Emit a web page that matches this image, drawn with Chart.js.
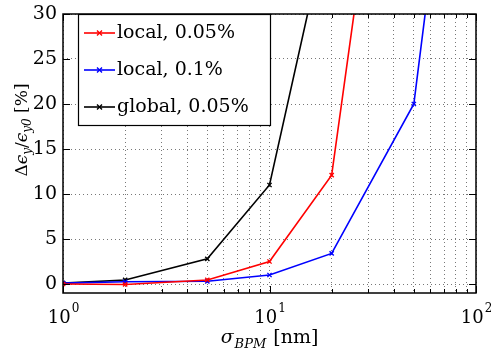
<!DOCTYPE html>
<html lang="en">
<head>
  <meta charset="UTF-8" />
  <title>Emittance growth vs BPM resolution</title>
  <script src="https://cdn.jsdelivr.net/npm/chart.js"></script>
  <style>
    html, body { margin: 0; padding: 0; background: #fff; }
    #wrap { width: 491px; height: 356px; }
  </style>
</head>
<body>
  <div id="wrap"><canvas id="chart" width="491" height="356"></canvas></div>

  <script>
    // values
    const sigmaBPM = [1, 2, 5, 10, 20, 50, 100];
    const local005 = [0.0, -0.05, 0.45, 2.5, 12.1, 78, null];
    const local01 = [0.1, 0.25, 0.3, 1.0, 3.4, 20, 75];
    const global005 = [0.1, 0.45, 2.8, 11, 42, null, null];

    const seriesLabels = ["local, 0.05%", "local, 0.1%", "global, 0.05%"];
    const seriesColors = ["#ff0000", "#0000ff", "#000000"];
    const yTicks = [0, 5, 10, 15, 20, 25, 30];
    const xDecades = [1, 10, 100];

    const FONT = "'DejaVu Serif', 'Liberation Serif', serif";

    function series(values, i) {
      return {
        label: seriesLabels[i],
        data: sigmaBPM.map((x, k) => ({ x: x, y: values[k] })),
        borderColor: seriesColors[i],
        backgroundColor: seriesColors[i],
        borderWidth: 1.6,
        pointStyle: 'crossRot',
        pointRadius: 3,
        pointBorderWidth: 1.4,
        spanGaps: false,
        tension: 0
      };
    }

    // frame, inward ticks, decade labels, axis titles and legend
    const decor = {
      id: 'decor',
      afterDraw(chart) {
        const ctx = chart.ctx;
        const a = chart.chartArea;
        const xs = chart.scales.x, ys = chart.scales.y;
        ctx.save();
        ctx.strokeStyle = '#000';
        ctx.lineWidth = 1;

        // inward tick marks
        ctx.beginPath();
        for (let e = 0; e < 2; e++) {
          for (let m = 1; m <= 10; m++) {
            const v = m * Math.pow(10, e);
            const px = Math.round(xs.getPixelForValue(v)) + 0.5;
            const len = (m === 1 || m === 10) ? 7 : 4;
            ctx.moveTo(px, a.bottom); ctx.lineTo(px, a.bottom - len);
            ctx.moveTo(px, a.top); ctx.lineTo(px, a.top + len);
          }
        }
        yTicks.forEach(v => {
          const py = Math.round(ys.getPixelForValue(v)) + 0.5;
          ctx.moveTo(a.left, py); ctx.lineTo(a.left + 7, py);
          ctx.moveTo(a.right, py); ctx.lineTo(a.right - 7, py);
        });
        ctx.stroke();

        // box
        ctx.lineWidth = 1.5;
        ctx.strokeRect(a.left, a.top, a.right - a.left, a.bottom - a.top);

        // x decade labels 10^n
        ctx.fillStyle = '#000';
        ctx.textBaseline = 'alphabetic';
        xDecades.forEach((v, n) => {
          const px = xs.getPixelForValue(v);
          ctx.font = '18px ' + FONT;
          const w1 = ctx.measureText('10').width;
          ctx.font = '12px ' + FONT;
          const w2 = ctx.measureText(String(n)).width;
          const x0 = px - (w1 + w2) / 2;
          ctx.font = '18px ' + FONT;
          ctx.textAlign = 'left';
          ctx.fillText('10', x0, 323);
          ctx.font = '12px ' + FONT;
          ctx.fillText(String(n), x0 + w1 + 1, 312);
        });

        // x title: sigma_BPM [nm]
        const cx = (a.left + a.right) / 2;
        ctx.font = 'italic 19px ' + FONT;
        const wS = ctx.measureText('σ').width;
        ctx.font = 'italic 13px ' + FONT;
        const wB = ctx.measureText('BPM').width + 2;
        ctx.font = '19px ' + FONT;
        const wN = ctx.measureText(' [nm]').width;
        let x0 = cx - (wS + wB + wN) / 2;
        ctx.font = 'italic 19px ' + FONT;
        ctx.fillText('σ', x0, 343);
        ctx.font = 'italic 13px ' + FONT;
        ctx.fillText('BPM', x0 + wS + 1, 348);
        ctx.font = '19px ' + FONT;
        ctx.fillText(' [nm]', x0 + wS + wB, 343);

        // y title: Δε_y/ε_y0 [%]
        ctx.save();
        ctx.translate(27, 130);
        ctx.rotate(-Math.PI / 2);
        const parts = [
          ['Δ', '17px ', 0], ['ϵ', 'italic 17px ', 0], ['y', 'italic 12px ', 4],
          ['/', '17px ', 0], ['ϵ', 'italic 17px ', 0], ['y0', 'italic 12px ', 4],
          [' [%]', '17px ', 0]
        ];
        let total = 0;
        parts.forEach(p => { ctx.font = p[1] + FONT; total += ctx.measureText(p[0]).width; });
        let px = -total / 2;
        parts.forEach(p => {
          ctx.font = p[1] + FONT;
          ctx.fillText(p[0], px, p[2]);
          px += ctx.measureText(p[0]).width;
        });
        ctx.restore();

        // legend
        const lx = 78, ly = 14, lw = 192, lh = 111;
        ctx.fillStyle = '#fff';
        ctx.fillRect(lx, ly, lw, lh);
        ctx.lineWidth = 1.2;
        ctx.strokeStyle = '#000';
        ctx.strokeRect(lx + 0.5, ly + 0.5, lw, lh);
        chart.data.datasets.forEach((ds, i) => {
          const ry = 33 + i * 37;
          ctx.strokeStyle = ds.borderColor;
          ctx.lineWidth = 1.6;
          ctx.beginPath();
          ctx.moveTo(84, ry); ctx.lineTo(115, ry);
          ctx.stroke();
          ctx.lineWidth = 1.4;
          ctx.beginPath();
          ctx.moveTo(97, ry - 2.5); ctx.lineTo(102, ry + 2.5);
          ctx.moveTo(97, ry + 2.5); ctx.lineTo(102, ry - 2.5);
          ctx.stroke();
          ctx.fillStyle = '#000';
          ctx.font = '19px ' + FONT;
          ctx.textAlign = 'left';
          ctx.textBaseline = 'middle';
          ctx.fillText(ds.label, 117, ry);
        });
        ctx.restore();
      }
    };

    new Chart(document.getElementById('chart'), {
      type: 'line',
      data: {
        datasets: [series(local005, 0), series(local01, 1), series(global005, 2)]
      },
      options: {
        responsive: false,
        animation: false,
        layout: { padding: { left: 0, right: 15, top: 14, bottom: 0 } },
        plugins: { legend: { display: false }, tooltip: { enabled: false } },
        scales: {
          x: {
            type: 'logarithmic',
            min: 1,
            max: 100,
            border: { display: false, dash: [1, 3] },
            grid: { color: '#777', lineWidth: 1, drawTicks: false },
            ticks: { display: false, autoSkip: false },
            afterBuildTicks(scale) {
              const t = [];
              for (let e = 0; e < 2; e++)
                for (let m = 1; m < 10; m++) t.push({ value: m * Math.pow(10, e) });
              t.push({ value: 100 });
              scale.ticks = t;
            },
            afterFit(scale) { scale.height = 63; }
          },
          y: {
            min: -1,
            max: 30,
            border: { display: false, dash: [1, 3] },
            grid: { color: '#777', lineWidth: 1, drawTicks: false },
            afterBuildTicks(scale) { scale.ticks = yTicks.map(v => ({ value: v })); },
            ticks: {
              color: '#000',
              padding: 6,
              font: { family: FONT, size: 19 }
            },
            afterFit(scale) {
              scale.width = 63;
              scale.paddingTop = 0;
              scale.paddingBottom = 0;
            }
          }
        }
      },
      plugins: [decor]
    });
  </script>
</body>
</html>
